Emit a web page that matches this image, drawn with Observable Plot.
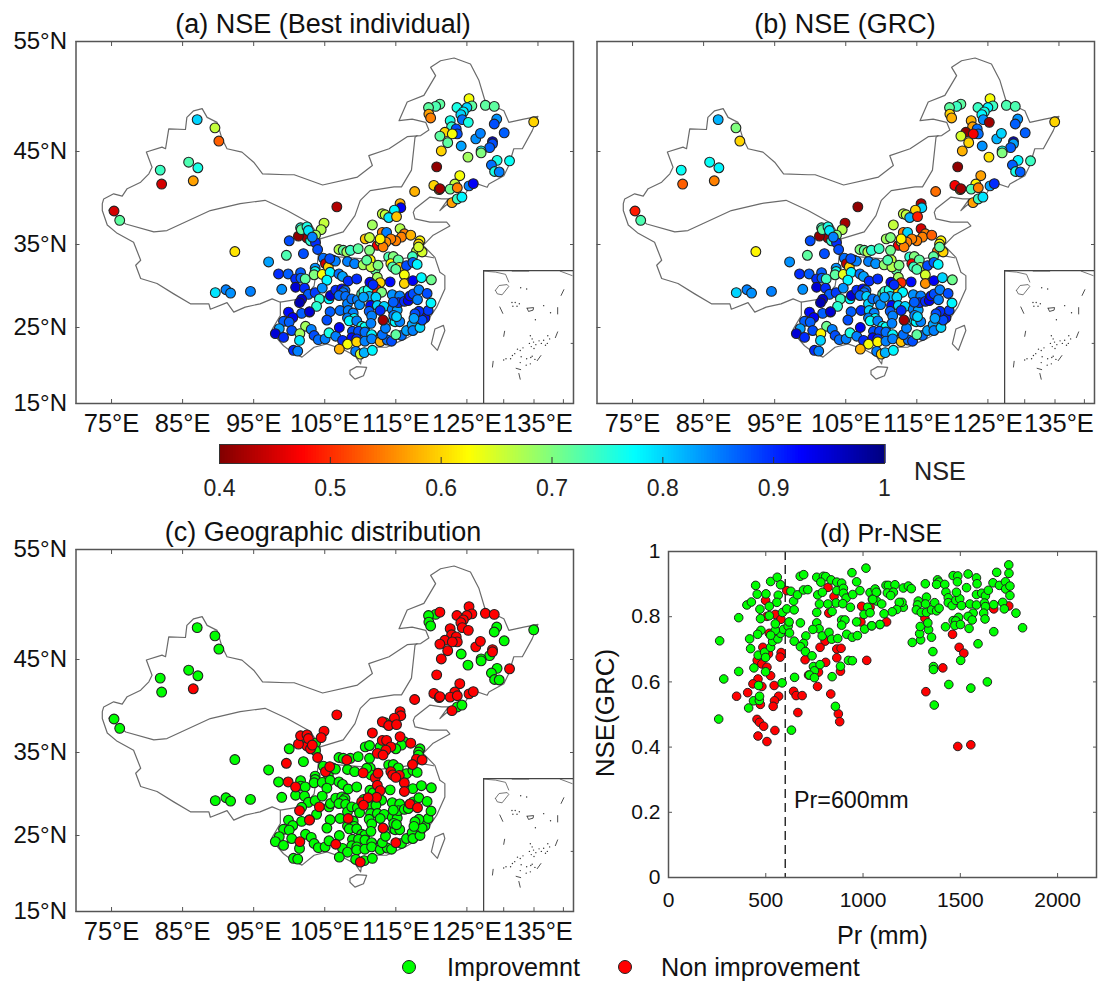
<!DOCTYPE html>
<html><head><meta charset="utf-8">
<script src="https://cdn.jsdelivr.net/npm/d3@7"></script>
<script src="https://cdn.jsdelivr.net/npm/@observablehq/plot@0.6"></script>
<style>
html,body{margin:0;padding:0;background:#fff;}
#page{position:relative;width:1101px;height:985px;overflow:hidden;font-family:"Liberation Sans",Arial,sans-serif;color:#111;}
#page>div{position:absolute;}
.title{font-size:27px;white-space:nowrap;transform:translateX(-50%);line-height:1;}
.lg{font-size:25.2px;white-space:nowrap;line-height:1;}
.sw{width:12px;height:12px;border-radius:50%;border:1px solid #222;}
</style></head><body><div id="page"></div>
<script>
// ---- chart values ----
// station rows: lon, lat, NSE best individual, NSE GRC, improved(1/0)
const stationsWest=[[87.05,47.9,.8,.82,1],[89.55,47.15,.66,.7,1],[90.1,45.95,.53,.6,1],[85.85,43.85,.73,.77,1],[87.15,43.25,.76,.78,1],[81.85,43,.74,.77,1],[82.05,41.5,.45,.53,1],[86.5,41.85,.57,.55,0],[75.35,38.6,.45,.49,1],[76.15,37.6,.72,.73,1],[92.35,34.15,.61,.62,1],[89.6,29.2,.79,.8,1],[91.1,29.55,.85,.85,1],[91.75,29.15,.84,.84,1],[94.55,29.35,.85,.85,1],[106.7,39.05,.43,.41,0]];
const stationsNortheast=[[125.3,49.8,.63,.63,0],[125.7,49.15,.72,.74,0],[125,49,.8,.78,0],[123.6,49,.76,.74,0],[124.5,48.6,.78,.76,0],[124.15,48.35,.8,.78,0],[124.35,47.9,.86,.84,0],[125.2,47.65,.76,.42,0],[121.2,49.3,.72,.72,0],[120.6,49.1,.73,.74,1],[119.6,49,.72,.72,1],[119.65,48.4,.57,.6,1],[119.9,48.05,.55,.58,1],[127.6,49.2,.72,.73,0],[128.85,49.1,.72,.73,0],[129.2,47.95,.84,.84,1],[128.85,47.5,.88,.87,1],[130.25,46.7,.87,.87,1],[122.65,47.8,.76,.58,0],[122.85,47.25,.75,.57,0],[123.5,47.05,.88,.86,0],[123.65,46.6,.88,.86,0],[121.9,46.75,.6,.41,0],[122.95,46.6,.63,.47,0],[121.2,46.4,.72,.65,0],[122.3,45.8,.72,.6,0],[124.2,45.5,.83,.84,1],[126.25,46.15,.84,.82,0],[126.9,46.65,.85,.8,0],[128.6,45.9,.95,.95,0],[128.6,45.7,.88,.83,0],[128.2,45.35,.87,.87,1],[127,45.05,.76,.76,1],[127,44.85,.7,.7,1],[125.15,44.4,.68,.61,1],[121.4,45.05,.6,.58,0],[134.4,47.7,.6,.6,1],[129.25,44.05,.76,.78,1],[131,44,.77,.74,0],[128.45,43.55,.86,.87,1],[128.9,42.85,.76,.76,1],[129.55,42.8,.85,.87,1],[120.75,43.35,.41,.41,0],[124,42.4,.63,.57,0],[123.3,41.5,.66,.62,0],[120.35,41.35,.6,.47,0],[121.1,40.9,.57,.61,0],[121.2,41,.42,.42,0],[122.65,40.95,.71,.73,0],[123.65,41.1,.55,.55,0],[125.3,41.3,.85,.83,0],[125.9,41.55,.93,.9,0],[117.65,40.7,.58,.54,0],[122.9,39.5,.57,.57,0],[123.65,39.9,.74,.74,1],[124.3,40.1,.78,.79,1]];
const stationsNorth=[[115.6,39.4,.58,.43,0],[115.7,38.95,.93,.8,0],[114.8,38.7,.78,.6,0],[113.1,38.3,.66,.66,0],[113.5,38.2,.66,.66,1],[114,37.9,.79,.82,0],[115.1,38,.59,.49,0],[111.7,37.1,.68,.66,0],[110.7,35.6,.59,.68,1],[111.3,35.75,.66,.7,1],[113.1,36.3,.55,.55,0],[113.7,36.3,.85,.8,0],[115.6,36.7,.67,.45,0],[116.2,36.15,.55,.55,1],[115.8,35.8,.55,.55,1],[117.1,36,.58,.53,0],[115,35.4,.55,.55,1],[114.3,35.6,.55,.55,0],[113.6,35.25,.56,.55,0],[112.4,34.9,.47,.47,0],[112.8,35.3,.65,.65,1],[113.2,34.7,.55,.55,0],[112.8,35.6,.62,.62,1],[118.4,35.4,.62,.62,1],[118.2,35.05,.6,.62,1],[117.9,34.2,.66,.55,0],[118.7,34.1,.65,.6,0],[117.35,33.55,.74,.72,0],[118.2,34.7,.65,.72,1]];
const stationsLoess=[[104.9,37.3,.66,.42,0],[104.5,36.6,.67,.67,0],[103.7,36,.68,.7,1],[102.5,35.7,.42,.42,0],[101.3,35.9,.41,.41,0],[101.6,36.8,.76,.74,0],[101.7,36.6,.72,.72,1],[102.5,36.9,.76,.76,0],[102.7,36.5,.79,.79,0],[100,35.4,.88,.88,1],[103,35.4,.75,.75,0],[103.7,35.2,.9,.9,1],[103.25,35.8,.85,.85,0],[104,34.4,.88,.88,0],[102,33.9,.88,.88,1],[99.6,33.7,.73,.72,0],[97.1,32.9,.83,.84,1],[104.8,33.35,.86,.86,1],[105.1,32.7,.45,.44,0],[105.5,32.3,.6,.6,1],[106.2,33.1,.88,.88,1],[106.5,33,.85,.85,1],[105.7,33.3,.88,.88,0]];
const stationsHuai=[[107,34.4,.67,.7,1],[107.6,34.3,.72,.72,1],[108.1,34.1,.68,.67,0],[108.6,34.3,.74,.75,1],[109.7,34.5,.72,.74,1],[111.3,34.3,.7,.71,1],[108.2,32.95,.85,.85,1],[109.2,32.7,.85,.84,1],[110.4,32.55,.68,.69,0],[111.4,33.15,.62,.66,1],[112.1,31.95,.72,.72,0],[111.5,32.3,.66,.67,1],[112.5,32.5,.7,.7,0],[110.9,33.1,.72,.73,1],[112.4,31.05,.68,.68,0],[112.8,30.4,.6,.5,0],[112.3,29.6,.5,.6,0],[113,29.25,.7,.78,1],[114,33.5,.73,.75,1],[114.65,33.55,.7,.7,1],[114.3,32.7,.62,.47,0],[115.35,33.15,.72,.72,1],[114.55,32.3,.73,.74,0],[115.5,32.25,.6,.67,0],[115,32,.72,.73,0],[116.5,32.45,.88,.88,1],[117.4,32.85,.87,.87,1],[118,32.6,.78,.78,1],[116.2,31.35,.63,.65,0],[116.2,30.3,.6,.56,0],[117.4,30.65,.93,.93,1],[118.6,31,.78,.8,1],[120,30.75,.71,.71,1],[114.2,30.5,.92,.92,1]];
const stationsSichuan=[[103.65,32.15,.84,.84,1],[103.65,31.75,.77,.77,1],[103.5,31.35,.7,.72,1],[104.65,31.4,.63,.64,1],[105.75,31.65,.78,.78,1],[105.3,30.7,.78,.78,1],[107,31.45,.86,.86,1],[107.5,31.15,.83,.83,1],[108.3,30.6,.9,.9,1],[109.5,30.85,.9,.9,1],[98.5,31.45,.9,.9,1],[99.85,31.45,.87,.87,0],[101.6,31.6,.87,.87,1],[100.9,30.85,.9,.9,0],[101.65,30.95,.87,.87,1],[102.25,30.85,.72,.74,1],[100.9,29.85,.95,.95,1],[102.15,29.75,.9,.9,1],[98.95,29.6,.84,.84,1],[102.7,29,.87,.87,1],[103.65,29.2,.89,.89,1],[104.65,29.75,.84,.84,1],[101.75,28.4,.95,.95,1],[101.45,28,.97,.97,0],[104.25,28.45,.75,.74,0],[105.6,28.45,.78,.78,1],[105.8,28.85,.95,.95,1],[106.55,29.5,.9,.9,1],[107.4,29.65,.92,.92,1],[107.85,29.45,.86,.86,1],[107.6,29.2,.86,.86,1],[107,28.85,.86,.86,1],[107.95,28.75,.86,.8,1],[108.2,27.85,.85,.8,1],[108.8,28.45,.86,.86,1],[109.6,28.35,.85,.85,1],[109.9,27.75,.84,.84,1],[110.2,29.05,.73,.73,0],[110.5,29.35,.75,.74,1],[111.1,29.55,.76,.76,0],[111.35,30.45,.93,.93,1],[111.8,30.15,.9,.9,1],[111.25,28.75,.82,.82,1],[112.2,28.65,.8,.8,1],[110.45,28.65,.83,.83,0]];
const stationsSouth=[[111.45,27.65,.92,.92,1],[112.4,27.65,.8,.8,1],[113.35,27.55,.8,.8,1],[112.8,27.05,.9,.9,1],[107.15,27.05,.86,.9,1],[105.75,26.9,.87,.87,1],[102.85,26.85,.95,.95,0],[101.75,26.7,.87,.87,1],[103.85,27.55,.75,.75,1],[99.9,26.85,.92,.92,1],[100.5,26.2,.93,.93,1],[99.2,25.75,.87,.87,1],[100,25.65,.87,.87,1],[98.6,24.85,.83,.83,1],[98.05,24.2,.95,.95,1],[99.2,23.7,.9,.9,1],[100.35,24.6,.88,.88,1],[102.3,25.15,.68,.71,1],[103.1,24.75,.85,.85,1],[101.5,24.2,.68,.62,0],[101.45,23.3,.79,.8,1],[103.5,23.95,.88,.88,1],[104.1,23.4,.86,.86,1],[105.05,23.5,.85,.85,1],[105.6,24.3,.76,.76,1],[106.55,23.85,.85,.85,0],[107.05,25,.93,.93,1],[107.5,23.3,.9,.9,1],[105.3,25.9,.88,.88,1],[108.3,27.05,.85,.8,0],[109,26.75,.85,.85,1],[108.2,26.15,.85,.85,1],[109.15,26.1,.78,.78,1],[108.45,25.8,.78,.77,1],[109.5,25.8,.85,.85,1],[110.2,25.15,.76,.78,1],[110.65,25.05,.77,.77,1],[111.25,26.95,.87,.87,1],[111.6,26.4,.85,.85,1],[111.5,25.5,.85,.85,1],[108.9,24.5,.88,.88,1],[109.75,24.5,.88,.88,1],[110.65,24.4,.86,.86,1],[111.6,24.05,.78,.78,1],[108.8,23.65,.92,.92,1],[109.5,23.5,.9,.9,1],[108.2,22.8,.63,.63,1],[109.5,23.1,.6,.62,1],[110.65,23.2,.85,.85,1],[111.6,23.5,.85,.85,1],[112.8,23.15,.58,.59,1],[113.8,23.35,.86,.86,1],[114.4,23.2,.88,.88,1],[113.1,24.05,.86,.86,1],[113.55,24.9,.85,.85,1],[115.8,23.95,.86,.86,1],[115,24.05,.72,.72,0],[116.5,24.6,.83,.83,1],[117.3,25.35,.83,.83,1],[117.4,24.6,.85,.85,1],[118.4,25,.8,.8,1],[119.1,26.15,.92,.92,1],[118.7,25.9,.88,.88,1],[119.55,27.05,.89,.89,1],[119.95,27.95,.78,.78,1],[118.25,26.95,.9,.9,1],[117.7,26.65,.88,.88,1],[117.55,26.1,.83,.83,1],[114.65,25.8,.8,.8,1],[114.9,25.7,.78,.78,1],[115.55,25.7,.85,.85,1],[114.5,27.2,.85,.85,1],[115.2,27.1,.83,.83,1],[114.7,26.45,.85,.85,1],[115.1,26.3,.8,.8,1],[113.2,25.9,.42,.42,0],[114.5,28.95,.84,.84,1],[115.55,28.8,.85,.85,1],[115.35,28,.9,.9,1],[116.2,28.15,.9,.9,1],[114.65,28.05,.87,.87,1],[116.75,28.25,.93,.93,1],[117,28.8,.92,.92,0],[117.45,29.05,.88,.88,1],[118.25,29.55,.85,.85,1],[119.4,29.1,.88,.88,1],[118.05,28.35,.85,.85,0],[100.6,22,.9,.9,1],[101.2,21.9,.85,.85,1],[107.05,22.15,.58,.58,1],[109.35,21.85,.85,.85,1],[110,21.5,.65,.6,0],[110.55,21.7,.82,.82,1],[111.7,22,.78,.78,1],[102.85,26.9,.95,.95,1]];
// Pr-NSE pairs: precipitation (mm), NSE(GRC)
const prImproved=[[263,.726],[258,.486],[284,.609],[361,.797],[361,.632],[417,.732],[422,.702],[403,.836],[426,.845],[448,.896],[456,.869],[501,.87],[470,.823],[473,.794],[525,.908],[559,.921],[576,.898],[564,.866],[557,.844],[518,.832],[518,.803],[586,.813],[608,.824],[629,.878],[643,.848],[663,.867],[646,.821],[677,.924],[695,.929],[694,.882],[716,.883],[762,.921],[796,.924],[808,.923],[783,.906],[836,.913],[865,.906],[890,.903],[943,.935],[1015,.949],[967,.907],[767,.867],[791,.875],[865,.88],[899,.887],[899,.872],[913,.857],[861,.842],[896,.84],[935,.829],[947,.868],[984,.88],[1036,.874],[1070,.875],[1048,.854],[1070,.848],[1024,.829],[1005,.807],[1036,.812],[776,.839],[819,.839],[841,.816],[762,.813],[678,.781],[762,.781],[774,.763],[742,.761],[706,.741],[790,.741],[825,.752],[839,.731],[870,.733],[890,.79],[907,.79],[890,.774],[916,.746],[945,.737],[971,.742],[967,.784],[1008,.762],[1044,.772],[1087,.776],[646,.725],[694,.718],[678,.708],[704,.693],[738,.68],[745,.647],[779,.653],[750,.634],[725,.621],[750,.613],[841,.616],[884,.648],[925,.666],[945,.665],[648,.614],[584,.597],[858,.525],[632,.452],[412,.52],[437,.542],[467,.543],[468,.556],[463,.589],[439,.643],[499,.631],[461,.682],[494,.691],[499,.675],[525,.706],[535,.724],[562,.732],[576,.749],[591,.761],[549,.758],[525,.743],[475,.758],[458,.746],[549,.778],[615,.771],[622,.75],[620,.784],
[1062,.885],[1068,.875],[1050,.853],[1096,.839],[1118,.896],[1130,.896],[1164,.898],[1125,.873],[1156,.875],[1142,.865],[1207,.888],[1233,.894],[1248,.886],[1320,.901],[1383,.913],[1390,.906],[1378,.899],[1420,.899],[1426,.875],[1438,.858],[1438,.843],[1458,.834],[1477,.85],[1497,.855],[1480,.875],[1506,.834],[1463,.926],[1487,.925],[1485,.907],[1540,.931],[1532,.889],[1583,.919],[1586,.901],[1583,.868],[1610,.872],[1629,.864],[1644,.881],[1668,.904],[1687,.936],[1749,.959],[1750,.933],[1701,.896],[1732,.907],[1733,.885],[1755,.894],[1755,.865],[1549,.839],[1583,.836],[1624,.842],[1629,.831],[1672,.837],[1718,.844],[1726,.824],[1786,.811],[1820,.766],[1620,.811],[1627,.793],[1566,.811],[1540,.801],[1561,.79],[1545,.764],[1491,.798],[1463,.788],[1477,.787],[1472,.773],[1501,.776],[1424,.769],[1672,.754],[1591,.717],[1502,.666],[1639,.6],[1554,.581],[1441,.592],[1366,.529],[1359,.693],[1362,.647],[1362,.638],[1253,.721],[1296,.729],[1291,.748],[1294,.77],[1337,.76],[1352,.737],[1333,.781],[1326,.86],[1284,.848],[1280,.836],[1274,.821],[1299,.813],[1321,.839],[1326,.813],[1352,.821],[1368,.843],[1378,.818],[1391,.826],[1207,.829],[1200,.844],[1186,.844],[1173,.822],[1150,.815],[1108,.809],[1087,.776],[1045,.772]];
const prNotImproved=[[499,.85],[506,.801],[549,.807],[578,.792],[608,.88],[820,.89],[851,.862],[993,.832],[824,.811],[989,.784],[805,.725],[518,.749],[485,.706],[514,.686],[456,.666],[480,.655],[506,.645],[579,.69],[574,.676],[779,.706],[865,.701],[887,.703],[702,.668],[865,.674],[808,.66],[1019,.666],[771,.63],[720,.621],[884,.633],[525,.619],[460,.609],[434,.594],[480,.586],[543,.589],[766,.586],[834,.563],[350,.556],[407,.567],[566,.556],[643,.571],[656,.558],[687,.558],[545,.542],[538,.525],[472,.531],[665,.506],[873,.502],[880,.478],[455,.485],[468,.476],[489,.464],[547,.451],[460,.434],[506,.417],[1318,.795],[1460,.746],[1494,.706],[1518,.688],[1410,.643],[1323,.57],[1487,.402],[1554,.407],[1672,.824],[1749,.833],[1121,.784],[1036,.829]];
// map lines: lon, lat
const outerBorder=[[73.7,39.4],[73.9,39.9],[75.3,40.45],[76.5,40.2],[77.2,41],[79.1,41.7],[80.25,42.6],[80.7,43.3],[79.9,44.95],[82.1,45.4],[82.6,45.25],[83.05,47.05],[85.4,47],[85.6,48.1],[86.55,48.7],[87.75,48.9],[88.45,48.1],[89.85,47.65],[90.55,46.15],[91.25,45.25],[93.35,44.93],[95,43.85],[96.25,42.6],[99.7,42.5],[100.7,42.5],[104.7,41.4],[109.6,42.25],[111.7,43.5],[111.2,44.55],[114.05,45.25],[116.6,46.35],[118.5,46.45],[119.65,46.95],[119.2,47.65],[117.3,47.95],[115.45,47.8],[116.6,49.5],[118.95,50.1],[120.6,51.9],[119.9,52.65],[121.3,53.25],[123.2,53.5],[125.5,52.95],[126.7,51.45],[127.6,49.5],[130.2,48.7],[130.9,47.65],[133,47.95],[135,48.2],[134.2,46.9],[132.8,45.25],[131.6,45.25],[130.9,43.5],[130.2,42.4],[128.1,41.5],[127.85,41.15],[125.75,41.7],[124.8,40.45],[124.25,40.25],[122,39.2],[121.2,38.65],[122.4,39.9],[121.45,39.9],[119.8,40.1],[117.7,38.85],[117.45,38.45],[117.7,37.75],[119.8,37.4],[122.15,37.4],[122.6,37],[120.25,36],[118.85,34.9],[120.5,33.45],[121.2,31.65],[121.9,31.25],[121.9,29.65],[120.75,27.45],[119.8,26.25],[118.4,24.6],[116.3,23.5],[113.7,22.4],[112.1,22.4],[110.2,21.3],[110.05,20.2],[109.25,21.3],[107.6,22.1],[105.3,22.85],[103.5,22.4],[101.8,21.1],[100.4,21.75],[99.2,22.6],[97.8,24.1],[97.6,24.75],[98.75,26.45],[98.75,28.05],[97.6,28.45],[95.9,27.85],[93.8,27.45],[92.2,26.85],[91.25,28],[88.9,27.2],[88.7,27.85],[86.1,27.85],[83.75,29.05],[81.4,30.3],[79.1,30.9],[78.4,32.5],[79.1,33.1],[78.1,35.25],[75.8,36.2],[74.4,37.1],[73.7,38.65],[73.7,39.4]];
const aridLine=[[74.6,38.7],[77,37.2],[80.95,36.35],[82.8,36.5],[88.9,38.65],[93.1,39.4],[96.6,39.75],[99.7,38.65],[103,37.25],[104.35,35.6],[107.6,36.35],[109.25,38.1],[110,39.75],[111.4,40.8],[114.75,41.2],[115.8,41.2],[117.2,43],[117.7,46.3],[118,46.45]];
const plateauLine=[[98.75,28.05],[102,28.5],[103.5,30],[104,33],[104.35,35.6]];
const huaiLine=[[104.2,33.7],[107,33.5],[110,33.3],[113,33],[116,33.3],[118.5,33.7],[120.3,33.4]];
const hainan=[[108.55,19.35],[109.5,19.85],[110.9,19.75],[110.45,18.65],[109.25,18.2],[108.55,18.85],[108.55,19.35]];
const taiwan=[[120.5,24.8],[121.7,25.25],[121.9,24.6],[120.85,22],[120,22.85],[120.5,24.8]];
const xLonTicks=[75,85,95,105,115,125,135];
const yLatTicks=[15,25,35,45,55];
const yLatRange=[403,327,244,151,41];
const nseTicks=[.4,.5,.6,.7,.8,.9,1];
// inset: South China Sea
const insetHainan=[[108.2,18.9],[109,19.65],[110.75,19.8],[111.1,19.5],[109.65,18.2],[108.6,18.35],[108.2,18.9]];
const insetCoast=[[[105.7,21.9],[108.2,21.75],[110.4,21.4],[111.1,20.2]],[[111.85,21.9],[115.45,21.9]],[[122.3,21.9],[124.9,21.2]]];
const insetDashes=[[[122.5,18.1],[123.1,19]],[[121.75,16.2],[121.75,15.2]],[[121.25,11.5],[121.75,12.4]],[[110.2,12.5],[110,11.7]],[[109.15,16.3],[109.8,15.3]],[[107.7,7.8],[107.55,6.9]],[[117.3,7.9],[118.1,8.7]],[[115.1,16.1],[116.5,16.2],[116.4,15.8],[115.4,15.6],[115.1,16.1]],[[112.7,6.7],[113.7,6.5]],[[113.3,5.9],[113.6,5]]];
const insetIslets=[[113.7,19.3],[115,19.1],[111.8,17],[112.5,17],[112,16.4],[112.9,16.4],[113.4,16.8],[118.7,16.5],[120.2,15.4],[116.9,14.3],[115.8,11.8],[116.2,11.3],[116.5,10.8],[115.6,10.6],[116.0,10.1],[116.6,9.8],[117,10.4],[117.7,11],[118.2,10.6],[118.7,11.1],[119.1,10.3],[119.5,10.6],[120,11.3],[119.6,11.8],[114.2,9.9],[113.6,9.5],[113,9.7],[112.4,9],[111.9,8.7],[111.5,8.2],[110.5,8.2],[110,8],[113.8,8.5],[115,8.2],[115.9,8.4],[116.2,8.6],[116.8,8.1],[115.8,7.4],[114.9,7.2],[113.6,7.6]];
const insetXTicks=[110,116.6,123];
const insetYTicks=[10.6];
// ---- drawing ----
const page=document.getElementById("page");
const stations=[...stationsWest,...stationsNortheast,...stationsNorth,...stationsLoess,...stationsHuai,...stationsSichuan,...stationsSouth];
const jet={type:"linear",domain:[.4,.475,.625,.775,.925,1],range:["#800000","#ff0000","#ffff00","#00ffff","#0000ff","#000080"],clamp:true};
const FONT='"Liberation Sans",Arial,sans-serif';
function place(el,left,top){const d=document.createElement("div");d.style.left=left+"px";d.style.top=top+"px";d.appendChild(el);page.appendChild(d);}
function label(cls,text,left,top,extra){const d=document.createElement("div");d.className=cls;d.textContent=text;d.style.left=left+"px";d.style.top=top+"px";if(extra)Object.assign(d.style,extra);page.appendChild(d);}
const lineStyle={x:d=>d[0],y:d=>d[1],stroke:"#6a6a6a",strokeWidth:1.2,curve:"linear"};
function mapPlot(dotMarks,showY){
  return Plot.plot({width:580,height:440,marginLeft:75.5,marginRight:7,marginTop:41,marginBottom:37,
    style:{background:"transparent",fontFamily:FONT,color:"#111"},
    x:{domain:[70,140],label:null},
    y:{type:"linear",domain:yLatTicks,range:yLatRange,label:null},
    color:jet,
    marks:[
      Plot.line(outerBorder,lineStyle),Plot.line(aridLine,lineStyle),Plot.line(plateauLine,lineStyle),Plot.line(huaiLine,lineStyle),Plot.line(hainan,lineStyle),Plot.line(taiwan,lineStyle),
      ...dotMarks,
      Plot.axisX({anchor:"bottom",ticks:xLonTicks,tickSize:-4,tickPadding:14,tickFormat:d=>d+"°E",fontSize:25.5,label:null,stroke:"#555"}),
      Plot.axisX({anchor:"top",ticks:xLonTicks,tickSize:-4,tickFormat:()=>"",label:null,stroke:"#555"}),
      Plot.axisY({anchor:"left",ticks:yLatTicks,tickSize:-4,tickPadding:showY?13:0,tickFormat:d=>showY?d+"°N":"",fontSize:24,label:null,stroke:"#555"}),
      Plot.axisY({anchor:"right",ticks:yLatTicks,tickSize:-4,tickFormat:()=>"",label:null,stroke:"#555"}),
      Plot.frame({stroke:"#555",strokeWidth:1.5})
    ]});
}
function insetPlot(){
  const s={x:d=>d[0],y:d=>d[1],stroke:"#222",strokeWidth:.8};
  return Plot.plot({width:90,height:133,margin:0,style:{background:"#fff"},
    x:{domain:[105.6,125.2],axis:null},y:{domain:[1.2,22],axis:null},
    marks:[
      Plot.line(insetHainan,{...s,stroke:"#555"}),
      ...insetCoast.map(c=>Plot.line(c,{...s,stroke:"#555"})),
      ...insetDashes.map(c=>Plot.line(c,s)),
      Plot.dot(insetIslets,{x:d=>d[0],y:d=>d[1],r:.7,fill:"#333",stroke:"none"}),
      Plot.ruleX(insetXTicks,{x:d=>d,y1:1.2,y2:1.8,stroke:"#555"}),
      Plot.ruleY(insetYTicks,{y:d=>d,x1:124.7,x2:125.2,stroke:"#555"}),
      Plot.frame({stroke:"#444",strokeWidth:1.5})
    ]});
}
const dotStyle={x:d=>d[0],y:d=>d[1],r:4.9,stroke:"#222",strokeWidth:1.1};
place(mapPlot([Plot.dot(stations,{...dotStyle,fill:d=>d[2]})],true),0,0);
place(insetPlot(),483,270);
place(mapPlot([Plot.dot(stations,{...dotStyle,fill:d=>d[3]})],false),521,0);
place(insetPlot(),1004,270);
place(mapPlot([
  Plot.dot(stations.filter(d=>d[4]===1),{...dotStyle,fill:"#00ff00"}),
  Plot.dot(stations.filter(d=>d[4]===0),{...dotStyle,fill:"#ff0000"})
],true),0,508);
place(insetPlot(),483,778);
// colour bar
place(Plot.plot({width:730,height:70,marginLeft:30,marginRight:35,marginTop:9,marginBottom:42,
  style:{background:"transparent",fontFamily:FONT,color:"#222"},
  x:{domain:[.4,1],label:null},y:{domain:[0,1],axis:null},color:jet,
  marks:[
    Plot.rectY(d3.range(0,240),{x1:i=>.4+i*.0025,x2:i=>.4+(i+1.6)*.0025,y1:0,y2:1,fill:i=>.4+(i+.5)*.0025}),
    Plot.axisX({anchor:"bottom",ticks:nseTicks,tickSize:-6,tickPadding:22,tickFormat:d=>d===1?"1":d.toFixed(1),fontSize:23,label:null,stroke:"#333"}),
    Plot.frame({stroke:"#333",strokeWidth:1})
  ]}),189,435);
label("lg","NSE",914,459,{color:"#222"});
// Pr-NSE
place(Plot.plot({width:491,height:420,marginLeft:58,marginRight:5,marginTop:31,marginBottom:63,
  style:{background:"transparent",fontFamily:FONT,color:"#111"},
  x:{domain:[0,2200],label:null},y:{domain:[0,1],label:null},
  marks:[
    Plot.ruleX([600],{stroke:"#111",strokeWidth:1.3,strokeDasharray:"9,5"}),
    Plot.dot(prNotImproved,{x:d=>d[0],y:d=>d[1],r:4.3,fill:"#ff0000",stroke:"#222",strokeWidth:1}),
    Plot.dot(prImproved,{x:d=>d[0],y:d=>d[1],r:4.3,fill:"#00ff00",stroke:"#222",strokeWidth:1}),
    Plot.text(["Pr=600mm"],{x:[645],y:[.235],text:d=>d,textAnchor:"start",fontSize:23.3,fill:"#111"}),
    Plot.axisX({anchor:"bottom",ticks:[0,500,1000,1500,2000],tickSize:-4,tickPadding:19,tickFormat:d=>String(d),fontSize:21,label:null,stroke:"#555"}),
    Plot.axisX({anchor:"top",ticks:[0,500,1000,1500,2000],tickSize:-4,tickFormat:()=>"",label:null,stroke:"#555"}),
    Plot.axisY({anchor:"left",ticks:[0,.2,.4,.6,.8,1],tickSize:-4,tickPadding:12,tickFormat:d=>d===0||d===1?String(d):d.toFixed(1),fontSize:21,label:null,stroke:"#555"}),
    Plot.axisY({anchor:"right",ticks:[0,.2,.4,.6,.8,1],tickSize:-4,tickFormat:()=>"",label:null,stroke:"#555"}),
    Plot.frame({stroke:"#555",strokeWidth:1.5})
  ]}),610,520);
// titles, labels, legend
label("title","(a) NSE (Best individual)",323,11);
label("title","(b) NSE (GRC)",845,11);
label("title","(c) Geographic distribution",323,519);
label("title","(d) Pr-NSE",881,521,{fontSize:"25px"});
label("lg","Pr (mm)",837,923);
label("lg","NSE(GRC)",605,713,{fontSize:"26px",transform:"translate(-50%,-50%) rotate(-90deg)"});
const sw1=document.createElement("div");sw1.className="sw";sw1.style.cssText+="left:402px;top:960px;background:#00ff00;";page.appendChild(sw1);
const sw2=document.createElement("div");sw2.className="sw";sw2.style.cssText+="left:618px;top:960px;background:#ff0000;";page.appendChild(sw2);
label("lg","Improvemnt",447,955);
label("lg","Non improvement",661,955);
</script></body></html>
